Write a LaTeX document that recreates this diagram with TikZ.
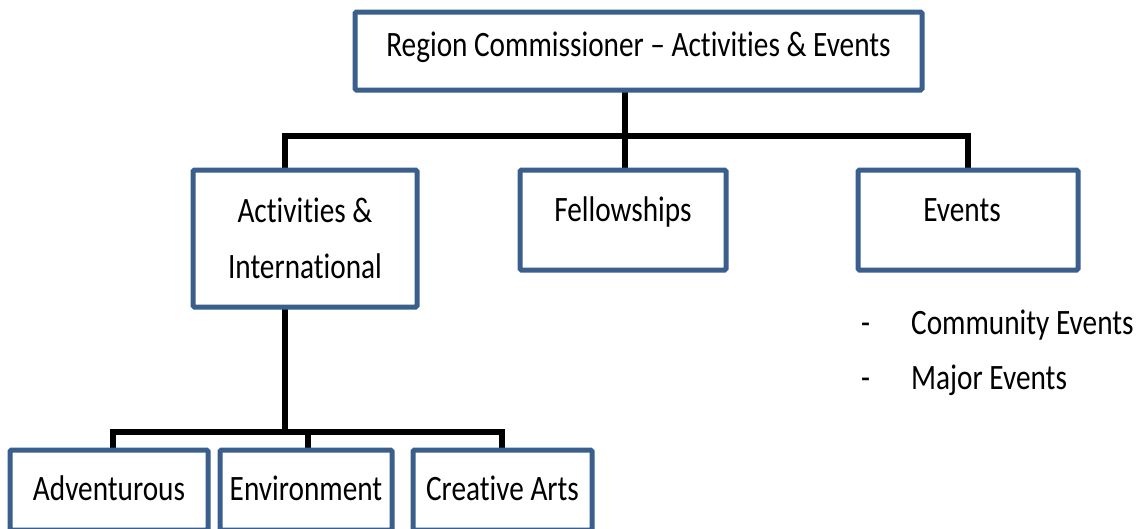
\documentclass[tikz,border=0pt]{standalone}
\usepackage{fontspec}
\setmainfont{Carlito}[FakeStretch=0.82,Ligatures=NoCommon]
\begin{document}
\begin{tikzpicture}[x=1pt,y=-1pt,
  box/.style={draw=boxblue,line width=5pt,fill=white,rounded corners=1.5pt,inner sep=0pt,
    font=\fontsize{35.7}{56}\selectfont,align=center},
  conn/.style={line width=6pt,black}]
\definecolor{boxblue}{RGB}{58,95,140}
\useasboundingbox (0,0) rectangle (1140,528);
% connectors
\coordinate (bar1m) at (625,136);
\coordinate (bar2m) at (308,432);
\draw[conn] (625,90) -- (625,172);
\draw[conn] (285,172) |- (bar1m) -| (968,172);
\draw[conn] (285,307) -- (285,432);
\draw[conn] (113,452) |- (bar2m) -| (502,452);
\draw[conn] (308,432) -- (308,452);
% boxes
\node[box,minimum width=567pt,minimum height=78pt,text height=24pt,text depth=14pt] (top) at (638.5,51) {Region Commissioner \textendash\ Activities \& Events};
\node[box,minimum width=224pt,minimum height=137pt,text height=79pt,text depth=0pt] (act) at (305,238.5) {Activities \&\\International};
\node[box,minimum width=206pt,minimum height=100pt,text height=24pt,text depth=21pt] (fel) at (623,220) {Fellowships};
\node[box,minimum width=220pt,minimum height=100pt,text height=24pt,text depth=21pt] (evt) at (968,220) {\hspace*{-12pt}Events};
\node[box,minimum width=198pt,minimum height=80pt,text height=24pt,text depth=3pt] (adv) at (109,490) {Adventurous};
\node[box,minimum width=172pt,minimum height=80pt,text height=24pt,text depth=3pt] (env) at (306,490) {Environment};
\node[box,minimum width=179pt,minimum height=80pt,text height=24pt,text depth=3pt] (cre) at (502.5,490) {Creative Arts};
% list
\node[font=\fontsize{35.7}{55}\selectfont,anchor=base west,align=left,inner sep=0pt] (list) at (861,389) {-\hspace{41pt}Community Events\\-\hspace{41pt}Major Events};
\end{tikzpicture}
\end{document}
